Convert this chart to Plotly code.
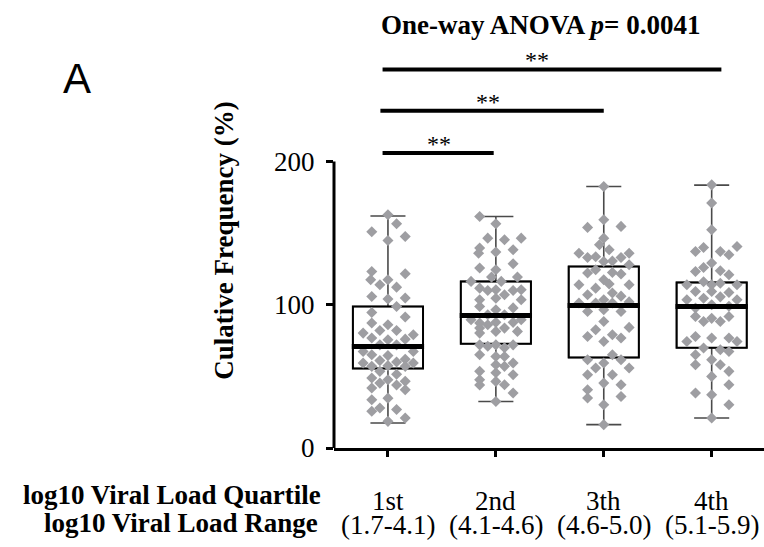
import plotly.graph_objects as go

# ---------------- data ----------------
quartiles = ["1st", "2nd", "3th", "4th"]
ranges = ["(1.7-4.1)", "(4.1-4.6)", "(4.6-5.0)", "(5.1-5.9)"]

q_low = [17.4, 32.5, 16.3, 20.9]
q_1 = [55.5, 72.8, 63.2, 70.0]
q_med = [70.9, 92.5, 99.5, 98.8]
q_3 = [98.8, 116.3, 126.7, 115.6]
q_high = [162.0, 161.6, 182.6, 183.5]

g1_y = [162.8, 156.5, 151, 147.7, 144.9, 123.2, 121.6, 117.4, 114, 117.4, 112.3, 105.8, 104, 104.7, 98.8,
        94.6, 91.4, 87.2, 86, 82, 82, 80.2, 79, 76.8, 75.6, 76, 72, 72, 67.4, 67.4, 65.1, 64.5, 62, 59.3,
        61, 60, 59.3, 57, 57.5, 57, 53.5, 51.5, 48.8, 47.7, 46.6, 45.3, 44, 41.9, 40.7, 33.7, 34.8, 27.9,
        25.6, 26.9, 20.9, 18.6]
g1_dx = [0, 0.08, -0.15, 0.16, 0, -0.15, 0.16, -0.16, -0.075, 0, 0.08, -0.15, 0, 0.16, 0.08,
         -0.15, 0.16, -0.15, 0, -0.075, 0.08, -0.23, 0.235, -0.15, 0, 0.16, -0.075, 0.08, -0.23, 0.235, -0.15, 0, 0.16, -0.23,
         -0.075, 0.08, 0.235, -0.15, 0, 0.16, -0.075, 0.08, -0.15, 0, 0.16, -0.075, 0.08, -0.15, 0.16, -0.15, 0, -0.075,
         -0.15, 0.08, 0.16, 0]

g2_y = [161.6, 156.5, 146.5, 145.4, 146.5, 139.6, 138.4, 136, 136.8, 125.6, 128.6, 124.4, 119.3, 119.3, 116.3,
        116.3, 111.6, 110, 110.5, 110, 110.5, 107, 103.5, 103.5, 104.5, 98.8, 96.5, 97.8, 93, 93, 89.5, 87.2,
        87.7, 87.7, 89.5, 83.7, 86, 83.7, 81.4, 81.4, 80.2, 72, 71, 72, 70, 72, 65.1, 63.9, 63.9, 58.1, 59.3,
        57, 53.5, 52.5, 51.2, 47.7, 46.5, 44.2, 44, 38.4, 32.5]
g2_dx = [-0.15, 0, -0.075, 0.08, 0.235, -0.15, 0.16, -0.16, 0, -0.15, 0.16, 0, -0.04, 0.2, -0.23,
         0.05, -0.15, -0.075, 0, 0.16, 0.235, 0.08, -0.15, 0.235, 0, -0.15, 0, 0.16, 0.08, -0.075, -0.23, -0.15,
         0, 0.16, 0.235, -0.15, -0.075, 0.08, 0.2, 0, -0.15, -0.15, -0.075, 0, 0.08, 0.16, -0.15, 0, 0.08, 0, 0.16,
         0.08, -0.15, 0, 0.16, -0.15, 0, 0.08, -0.15, 0.16, 0]

g3_y = [182.6, 159.3, 154, 154.7, 146.5, 141.9, 136, 138.4, 133, 133.5, 130.2, 133, 136, 130.5, 124.4,
        122.1, 122.5, 121.4, 127.9, 114, 117.4, 111.6, 114.5, 114, 107, 108.2, 106, 101.2, 101.2, 103.5,
        101.2, 102, 95.3, 96.5, 95.3, 88.3, 82.6, 84.2, 77.9, 79, 74.4, 76.8, 65.1, 61.6, 59.3, 61.6, 55.8,
        55.8, 51.2, 51.2, 45.3, 44.2, 40.7, 34.9, 36, 30.2, 16.3]
g3_dx = [0, 0, -0.15, 0.16, 0, -0.04, -0.23, 0.05, -0.15, -0.075, 0, 0.16, 0.235, 0.08, -0.075,
         -0.15, 0.08, 0.16, 0.235, -0.23, 0, -0.075, 0.05, 0.235, -0.15, 0.08, 0.16, -0.23, -0.075, 0,
         0.08, 0.235, -0.15, 0, 0.16, 0, -0.075, 0.235, -0.15, 0.08, 0, 0.16, 0.08, -0.15, 0, 0.16, -0.075,
         0.235, -0.15, 0.08, 0, 0.16, -0.15, -0.15, 0.16, 0, 0]

g4_y = [183.7, 171, 152.3, 137.2, 140, 137.2, 134.9, 140.7, 129.1, 123.2, 126, 123.7, 120.9, 114, 116,
        114, 115, 114, 109.3, 109.3, 108.5, 103.5, 104.5, 105.5, 103.5, 97.7, 100, 99, 91.8, 88.3, 90.5,
        88.3, 91.8, 77.9, 76.8, 76.8, 74.4, 74.4, 69.8, 68.6, 65.1, 67.4, 61.6, 58.1, 58.1, 53.5, 50, 44.2,
        38.4, 37.2, 30.2, 20.9]
g4_dx = [0, 0, 0, -0.15, -0.075, 0.08, 0.16, 0.235, 0, -0.15, -0.075, 0.08, 0.16, -0.23, -0.075,
         0, 0.08, 0.235, -0.15, 0, 0.16, -0.23, -0.075, 0.08, 0.235, -0.15, 0, 0.16, -0.15, -0.075, 0,
         0.08, 0.16, -0.15, 0, 0.16, -0.23, 0.235, -0.075, 0.08, -0.15, 0.16, 0, -0.15, 0.08, 0.16, 0, 0.16,
         -0.15, 0, 0.16, 0]

groups_y = [g1_y, g2_y, g3_y, g4_y]
groups_dx = [g1_dx, g2_dx, g3_dx, g4_dx]

# significance brackets (group 1 vs groups 2, 3, 4)
sig_x0 = [-0.05, -0.07, -0.05]
sig_x1 = [0.98, 2.0, 3.09]
sig_y = [205.9, 235.5, 264.3]
sig_text_x = [0.47, 0.93, 1.38]
sig_text = ["**", "**", "**"]

title_text = "One-way ANOVA <i>p</i>= 0.0041"
y_title = "Culative Frequency (%)"
row1_label = "log10 Viral Load Quartile"
row2_label = "log10 Viral Load Range"
panel_label = "A"

# ---------------- figure ----------------
SERIF = "Liberation Serif, Times New Roman, serif"
pos = list(range(len(quartiles)))

W, H = 764, 547
ML, MR, MT, MB = 334, 0, 33, 99
pw, ph = W - ML - MR, H - MT - MB


def fx(px):
    return (px - ML) / pw


def fy(py):
    return (H - MB - py) / ph


fig = go.Figure()

# whiskers (gray)
fig.add_trace(go.Box(
    x=pos, q1=q_1, median=q_med, q3=q_3, lowerfence=q_low, upperfence=q_high,
    width=0.65, whiskerwidth=0.5, boxpoints=False,
    line=dict(color="#4a4a4a", width=1.6), fillcolor="rgba(0,0,0,0)",
    hoverinfo="skip", showlegend=False))
# boxes (black)
fig.add_trace(go.Box(
    x=pos, q1=q_1, median=q_med, q3=q_3, lowerfence=q_1, upperfence=q_3,
    width=0.65, whiskerwidth=0, boxpoints=False,
    line=dict(color="black", width=2), fillcolor="rgba(0,0,0,0)",
    hoverinfo="skip", showlegend=False))

# points
px_all, py_all = [], []
for i, (ys, dxs) in enumerate(zip(groups_y, groups_dx)):
    for yv, dv in zip(ys, dxs):
        px_all.append(i + dv)
        py_all.append(yv)
fig.add_trace(go.Scatter(
    x=px_all, y=py_all, mode="markers",
    marker=dict(symbol="diamond", size=8.5, color="#9e9ea2", line=dict(width=0)),
    showlegend=False, hoverinfo="skip"))

# thick medians
mx, my = [], []
for i, m in enumerate(q_med):
    mx += [i - 0.335, i + 0.335, None]
    my += [m, m, None]
fig.add_trace(go.Scatter(x=mx, y=my, mode="lines",
                         line=dict(color="black", width=5),
                         showlegend=False, hoverinfo="skip"))

shapes = []
# y axis line stopping at 200
shapes.append(dict(type="line", xref="paper", yref="y", x0=0, x1=0, y0=0, y1=200,
                   line=dict(color="black", width=3)))
for x0, x1, yv in zip(sig_x0, sig_x1, sig_y):
    shapes.append(dict(type="line", xref="x", yref="y", x0=x0, x1=x1, y0=yv, y1=yv,
                       line=dict(color="black", width=4)))

annotations = []
for tx, yv, t in zip(sig_text_x, sig_y, sig_text):
    annotations.append(dict(x=tx, y=yv, xref="x", yref="y", text=t, showarrow=False,
                            xanchor="center", yanchor="bottom", yshift=-6,
                            font=dict(family=SERIF, size=24, color="black")))
for i, (q, r) in enumerate(zip(quartiles, ranges)):
    annotations.append(dict(x=i, y=0, xref="x", yref="paper", text=q, showarrow=False,
                            xanchor="center", yanchor="middle", yshift=-53,
                            font=dict(family=SERIF, size=27, color="black")))
    annotations.append(dict(x=i, y=0, xref="x", yref="paper", text=r, showarrow=False,
                            xanchor="center", yanchor="middle", yshift=-77,
                            font=dict(family=SERIF, size=27, color="black")))
annotations.append(dict(x=fx(323), y=0, xref="paper", yref="paper", xanchor="right", yanchor="middle",
                        text="<b>%s</b>" % row1_label, showarrow=False, yshift=-47,
                        font=dict(family=SERIF, size=27, color="black")))
annotations.append(dict(x=fx(320), y=0, xref="paper", yref="paper", xanchor="right", yanchor="middle",
                        text="<b>%s</b>" % row2_label, showarrow=False, yshift=-75,
                        font=dict(family=SERIF, size=27, color="black")))
annotations.append(dict(x=fx(540), y=fy(25), xref="paper", yref="paper", xanchor="center", yanchor="middle",
                        text="<b>%s</b>" % title_text, showarrow=False,
                        font=dict(family=SERIF, size=27, color="black")))
annotations.append(dict(x=fx(77), y=fy(78), xref="paper", yref="paper", xanchor="center", yanchor="middle",
                        text=panel_label, showarrow=False,
                        font=dict(family="Liberation Sans, Arial, sans-serif", size=42, color="black")))

fig.update_layout(
    width=W, height=H,
    margin=dict(l=ML, r=MR, t=MT, b=MB, pad=0),
    paper_bgcolor="white", plot_bgcolor="white",
    boxmode="overlay",
    shapes=shapes, annotations=annotations,
    xaxis=dict(range=[-0.5, 3.485], showgrid=False, zeroline=False,
               showline=True, linecolor="black", linewidth=3,
               tickmode="array", tickvals=pos, ticktext=["" for _ in pos],
               ticks="outside", ticklen=6, tickwidth=3, tickcolor="black",
               showticklabels=False),
    yaxis=dict(range=[0, ph / 1.4325], showgrid=False, zeroline=False, showline=False,
               tickmode="array", tickvals=[0, 100, 200], ticktext=["0", "100", "200"],
               ticks="outside", ticklen=7, tickwidth=3, tickcolor="black",
               ticklabelstandoff=6,
               tickfont=dict(family=SERIF, size=27, color="black"),
               title=dict(text="<b>%s</b>" % y_title, standoff=32,
                          font=dict(family=SERIF, size=27, color="black"))),
)

fig.write_html("out.html")
